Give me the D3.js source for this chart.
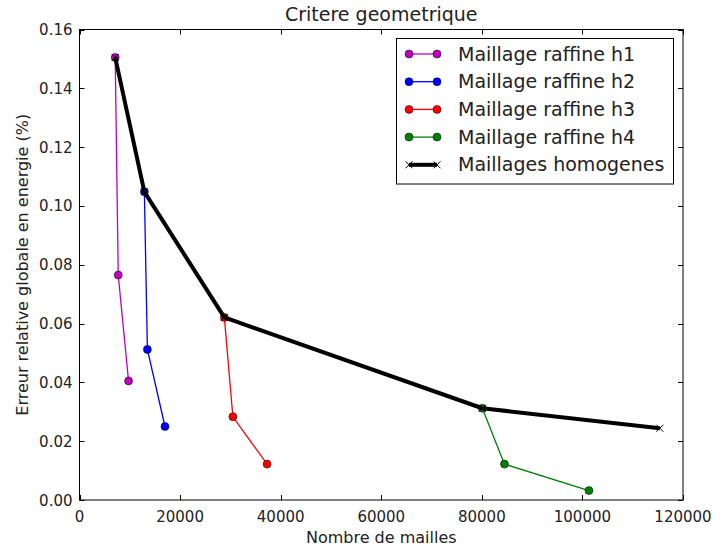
<!DOCTYPE html>
<html><head><meta charset="utf-8">
<script src="https://cdn.jsdelivr.net/npm/d3@7/dist/d3.min.js"></script>
<style>body{margin:0;background:#fff}svg{display:block;font-family:"DejaVu Sans",sans-serif}</style>
</head><body><svg id="c" width="714" height="549"></svg>
<script>
const title = "Critere geometrique";
const xLabel = "Nombre de mailles";
const yLabel = "Erreur relative globale en energie (%)";
const xTicks = [0, 20000, 40000, 60000, 80000, 100000, 120000];
const yTicks = [0.00, 0.02, 0.04, 0.06, 0.08, 0.10, 0.12, 0.14, 0.16];

const h1X = [7100, 7700, 9750];
const h1Y = [0.1505, 0.0765, 0.0405];
const h2X = [12900, 13500, 17000];
const h2Y = [0.1048, 0.0512, 0.0250];
const h3X = [28800, 30500, 37300];
const h3Y = [0.0621, 0.0283, 0.0122];
const h4X = [80100, 84500, 101300];
const h4Y = [0.0312, 0.0122, 0.0032];
const homX = [7100, 12900, 28800, 80100, 115400];
const homY = [0.1505, 0.1048, 0.0621, 0.0312, 0.0244];

const seriesNames = ["Maillage raffine h1","Maillage raffine h2","Maillage raffine h3","Maillage raffine h4","Maillages homogenes"];
const seriesColors = ["#bf00bf","#0000ff","#ff0000","#008000","#000000"];

const svg = d3.select("#c");
const L = 79.5, R = 683, T = 29.5, B = 500;
const x = d3.scaleLinear().domain([0,120000]).range([L,R]);
const y = d3.scaleLinear().domain([0,0.16]).range([B,T]);

// frame
svg.append("rect").attr("x",L).attr("y",T).attr("width",R-L).attr("height",B-T)
  .attr("fill","#fff").attr("stroke","#000").attr("stroke-width",1);

const tl = 5;
const g = svg.append("g");
// x ticks
xTicks.forEach(v=>{
  const px = Math.round(x(v))+0.5;
  g.append("line").attr("x1",px).attr("x2",px).attr("y1",B).attr("y2",B-tl).attr("stroke","#000");
  g.append("line").attr("x1",px).attr("x2",px).attr("y1",T).attr("y2",T+tl).attr("stroke","#000");
  g.append("text").attr("x",x(v)).attr("y",B+22).attr("text-anchor","middle")
    .attr("font-size",15).attr("fill","#222").text(d3.format("d")(v));
});
yTicks.forEach(v=>{
  const py = Math.round(y(v))+0.5;
  g.append("line").attr("x1",L).attr("x2",L+tl).attr("y1",py).attr("y2",py).attr("stroke","#000");
  g.append("line").attr("x1",R).attr("x2",R-tl).attr("y1",py).attr("y2",py).attr("stroke","#000");
  g.append("text").attr("x",L-7).attr("y",y(v)+5.5).attr("text-anchor","end")
    .attr("font-size",15).attr("fill","#222").text(d3.format(".2f")(v));
});

svg.append("text").attr("x",(L+R)/2).attr("y",21).attr("text-anchor","middle")
  .attr("font-size",19).attr("fill","#222").text(title);
svg.append("text").attr("x",(L+R)/2).attr("y",543).attr("text-anchor","middle")
  .attr("font-size",16).attr("fill","#222").text(xLabel);
svg.append("text").attr("transform",`translate(28,${(T+B)/2}) rotate(-90)`).attr("text-anchor","middle")
  .attr("font-size",16).attr("fill","#222").text(yLabel);

const line = d3.line().x(d=>x(d[0])).y(d=>y(d[1]));
const plot = svg.append("g");
const raff = [[h1X,h1Y],[h2X,h2Y],[h3X,h3Y],[h4X,h4Y]];
raff.forEach((s,i)=>{
  const pts = s[0].map((v,j)=>[v,s[1][j]]);
  plot.append("path").attr("d",line(pts)).attr("fill","none").attr("stroke",seriesColors[i]).attr("stroke-width",1.3);
  pts.forEach(p=>plot.append("circle").attr("cx",x(p[0])).attr("cy",y(p[1])).attr("r",4)
    .attr("fill",seriesColors[i]).attr("stroke","#000").attr("stroke-width",0.5));
});
const hpts = homX.map((v,j)=>[v,homY[j]]);
plot.append("path").attr("d",line(hpts)).attr("fill","none").attr("stroke","#000").attr("stroke-width",4).attr("stroke-linejoin","round");
function xmark(gp,cx,cy){
  const s=3.5;
  gp.append("path").attr("d",`M${cx-s},${cy-s}L${cx+s},${cy+s}M${cx-s},${cy+s}L${cx+s},${cy-s}`)
    .attr("stroke","#000").attr("stroke-width",1).attr("fill","none");
}
hpts.forEach(p=>xmark(plot,x(p[0]),y(p[1])));

// legend
const lg = svg.append("g");
lg.append("rect").attr("x",396.5).attr("y",38.5).attr("width",277).attr("height",145.5)
  .attr("fill","#fff").attr("stroke","#000").attr("stroke-width",1);
seriesNames.forEach((n,i)=>{
  const cy = 54 + i*27.7;
  const x1 = 409, x2 = 437;
  if(i<4){
    lg.append("line").attr("x1",x1).attr("x2",x2).attr("y1",cy).attr("y2",cy).attr("stroke",seriesColors[i]).attr("stroke-width",1.3);
    [x1,x2].forEach(px=>lg.append("circle").attr("cx",px).attr("cy",cy).attr("r",4)
      .attr("fill",seriesColors[i]).attr("stroke","#000").attr("stroke-width",0.5));
  } else {
    lg.append("line").attr("x1",x1).attr("x2",x2).attr("y1",cy).attr("y2",cy).attr("stroke","#000").attr("stroke-width",4);
    xmark(lg,x1,cy); xmark(lg,x2,cy);
  }
  lg.append("text").attr("x",458).attr("y",cy+6.5).attr("font-size",19).attr("fill","#222").text(n);
});
</script></body></html>
